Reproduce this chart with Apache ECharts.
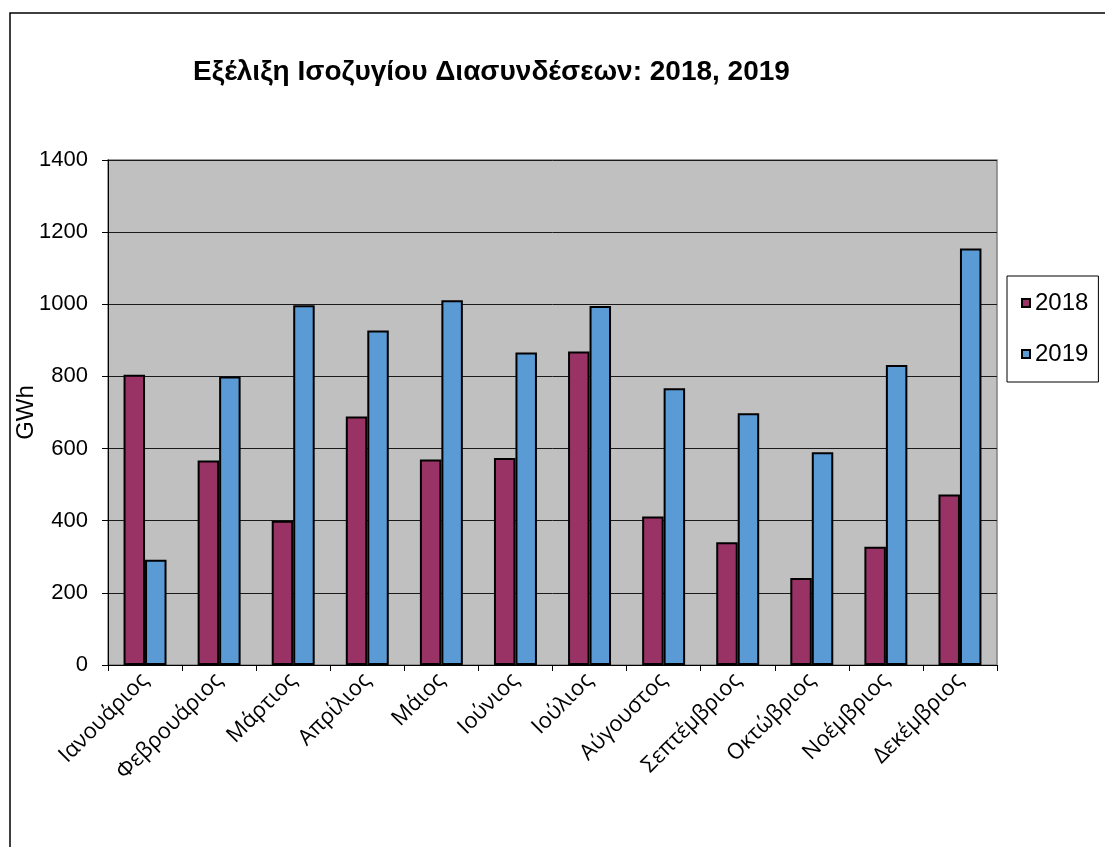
<!DOCTYPE html>
<html>
<head>
<meta charset="utf-8">
<script src="https://cdn.jsdelivr.net/npm/echarts@6/dist/echarts.min.js"></script>
<style>
html,body{margin:0;padding:0;background:#fff;}
#chart{width:1105px;height:847px;}
</style>
</head>
<body>
<div id="chart"></div>
<script>
const months = ['Ιανουάριος','Φεβρουάριος','Μάρτιος','Απρίλιος','Μάιος','Ιούνιος','Ιούλιος','Αύγουστος','Σεπτέμβριος','Οκτώβριος','Νοέμβριος','Δεκέμβριος'];
const seriesNames = ['2018','2019'];
const values2018 = [805, 567, 400, 689, 570, 574, 869, 412, 340, 241, 328, 473];
const values2019 = [292, 800, 997, 927, 1011, 866, 995, 767, 698, 590, 832, 1155];
const titleText = 'Εξέλιξη Ισοζυγίου Διασυνδέσεων: 2018, 2019';
const yAxisName = 'GWh';

const chart = echarts.init(document.getElementById('chart'), null, {renderer:'canvas'});
const arial = '"Liberation Sans", Arial, sans-serif';
chart.setOption({
  animation: false,
  backgroundColor: '#ffffff',
  title: {
    text: titleText,
    left: 188, top: 53,
    textStyle: {fontFamily: arial, fontWeight: 'bold', fontSize: 28, color: '#000'}
  },
  graphic: [{
    type: 'rect', silent: true, z: 100,
    shape: {x: 10, y: 13, width: 1200, height: 1000},
    style: {fill: 'none', stroke: '#000', lineWidth: 1.5}
  }],
  legend: {
    orient: 'vertical',
    left: 1007, top: 276,
    padding: [15, 10, 16, 14],
    itemGap: 27,
    itemWidth: 8, itemHeight: 8,
    icon: 'rect',
    borderColor: '#000', borderWidth: 1,
    backgroundColor: '#fff',
    textStyle: {fontFamily: arial, fontSize: 24, color: '#000'},
    data: seriesNames
  },
  grid: {
    left: 108, right: 108, top: 160, bottom: 182,
    containLabel: false, outerBoundsMode: 'none',
    show: true, backgroundColor: '#c0c0c0', borderColor: '#808080', borderWidth: 1.5
  },
  xAxis: {
    type: 'category',
    data: months,
    axisLine: {lineStyle: {color: '#000', width: 1}},
    axisTick: {show: true, length: 6, lineStyle: {color: '#000'}},
    axisLabel: {rotate: 45, interval: 0, margin: 12, fontFamily: '"Open Sans", sans-serif', fontSize: 22, color: '#000'}
  },
  yAxis: {
    type: 'value',
    min: 0, max: 1400, interval: 200,
    name: yAxisName,
    nameLocation: 'middle',
    nameRotate: 90,
    nameGap: 70,
    nameMoveOverlap: false,
    nameTextStyle: {fontFamily: arial, fontSize: 24, color: '#000'},
    axisLine: {show: true, lineStyle: {color: '#000', width: 1}},
    axisTick: {show: true, length: 6, lineStyle: {color: '#000'}},
    axisLabel: {margin: 20, fontFamily: arial, fontSize: 22, color: '#000', formatter: function (v) { return String(v); }},
    splitLine: {show: true, lineStyle: {color: '#1a1a1a', width: 1}}
  },
  series: [
    {name: seriesNames[0], type: 'bar', data: values2018, barGap: '0%', barCategoryGap: '42%',
     itemStyle: {color: '#993366', borderColor: '#000', borderWidth: 2}},
    {name: seriesNames[1], type: 'bar', data: values2019, barGap: '0%', barCategoryGap: '42%',
     itemStyle: {color: '#5b9bd5', borderColor: '#000', borderWidth: 2}}
  ]
});
</script>
</body>
</html>
